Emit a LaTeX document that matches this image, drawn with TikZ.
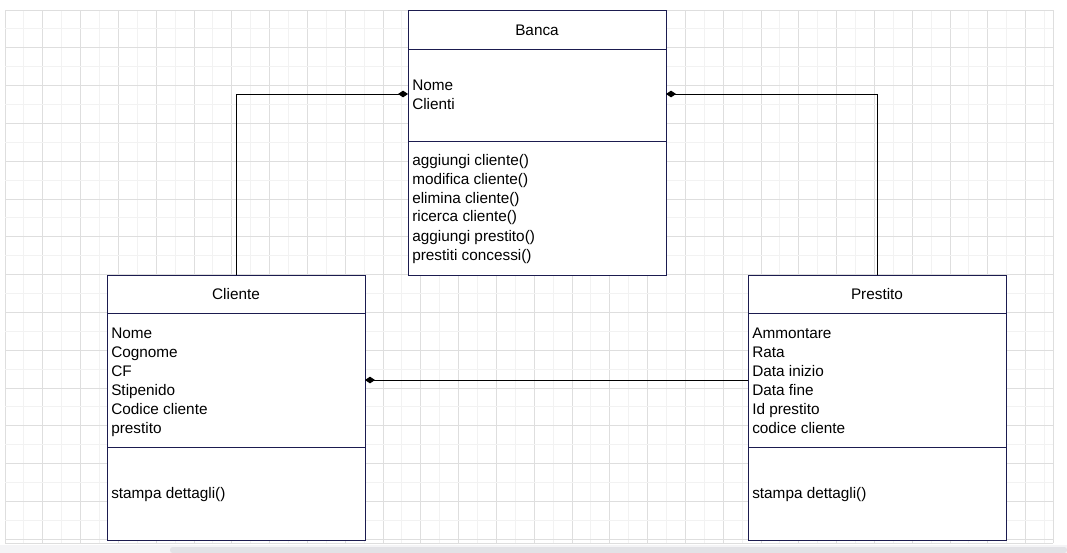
\documentclass[tikz,border=0pt]{standalone}
\usepackage{fontspec}
\setmainfont{Liberation Sans}
\usetikzlibrary{arrows.meta}
\definecolor{boxline}{HTML}{1B1B4F}
\definecolor{gridminor}{HTML}{F2F2F2}
\definecolor{gridmajor}{HTML}{DEDEDE}
\definecolor{barbg}{HTML}{F4F4F6}
\definecolor{barfg}{HTML}{E2E2E6}
\tikzset{
  umlbox/.style={draw=boxline, line width=0.75pt, fill=white, inner sep=0pt, outer sep=0pt,
    minimum width=193.5pt, minimum height=198.75pt, anchor=north west},
  sepline/.style={draw=boxline, line width=0.75pt},
  txt/.style={anchor=base west, inner sep=0pt, font=\fontsize{11.5pt}{14pt}\selectfont, text=black},
  title/.style={anchor=base, inner sep=0pt, font=\fontsize{11.5pt}{14pt}\selectfont, text=black},
  conn/.style={draw=black, line width=0.7pt, -{Diamond[length=7.5pt,width=5pt]}},
}
\begin{document}
\begin{tikzpicture}[x=0.75pt,y=-0.75pt]
\useasboundingbox (0,0) rectangle (1067,553);
\fill[white] (0,0) rectangle (1067,553);
% grid
\foreach \i in {0,...,55} {
  \pgfmathtruncatemacro{\m}{mod(\i,2)}
  \ifnum\m=0 \draw[gridmajor, line width=0.75pt] ({5+18.9*\i},10) -- ({5+18.9*\i},543);
  \else \draw[gridminor, line width=0.75pt] ({5+18.9*\i},10) -- ({5+18.9*\i},543); \fi
}
\foreach \j in {0,...,28} {
  \pgfmathtruncatemacro{\m}{mod(\j,2)}
  \ifnum\m=0 \draw[gridmajor, line width=0.75pt] (5,{10+18.9*\j}) -- (1053,{10+18.9*\j});
  \else \draw[gridminor, line width=0.75pt] (5,{10+18.9*\j}) -- (1053,{10+18.9*\j}); \fi
}
\draw[gridmajor, line width=0.75pt] (1053,10) -- (1053,543);
\draw[gridmajor, line width=0.75pt] (5,543) -- (1053,543);
% scrollbar strip
\fill[barbg] (0,545) rectangle (1067,553);
\fill[barfg, rounded corners=2pt] (170,547) rectangle (1067,553);

% connector coordinates
\coordinate (bl) at (408,94);
\coordinate (br) at (666,94);
\coordinate (ce) at (365,380);
\coordinate (pw) at (748,380);

% boxes
\node[umlbox] (banca) at (408,10) {};
\node[umlbox] (cliente) at (107,275) {};
\node[umlbox] (prestito) at (748,275) {};

% connectors
\draw[conn] (cliente.north) |- (bl);
\draw[conn] (prestito.north) |- (br);
\draw[conn] (pw) -- (ce);

% Banca
\draw[sepline] (408,49) -- (666,49);
\draw[sepline] (408,141) -- (666,141);
\node[title] (bt) at (537,35) {Banca};
\node[txt] (b1) at (412,90) {Nome};
\node[txt] (b2) at (412,109) {Clienti};
\node[txt] (b3) at (412,165) {aggiungi cliente()};
\node[txt] (b4) at (412,184) {modifica cliente()};
\node[txt] (b5) at (412,203) {elimina cliente()};
\node[txt] (b6) at (412,221) {ricerca cliente()};
\node[txt] (b7) at (412,241) {aggiungi prestito()};
\node[txt] (b8) at (412,260) {prestiti concessi()};

% Cliente
\draw[sepline] (107,313) -- (365,313);
\draw[sepline] (107,447) -- (365,447);
\node[title] (ct) at (236,299) {Cliente};
\node[txt] (c1) at (111,338) {Nome};
\node[txt] (c2) at (111,357) {Cognome};
\node[txt] (c3) at (111,376) {CF};
\node[txt] (c4) at (111,395) {Stipenido};
\node[txt] (c5) at (111,414) {Codice cliente};
\node[txt] (c6) at (111,433) {prestito};
\node[txt] (c7) at (111,498) {stampa dettagli()};

% Prestito
\draw[sepline] (748,313) -- (1006,313);
\draw[sepline] (748,447) -- (1006,447);
\node[title] (pt) at (877,299) {Prestito};
\node[txt] (p1) at (752,338) {Ammontare};
\node[txt] (p2) at (752,357) {Rata};
\node[txt] (p3) at (752,376) {Data inizio};
\node[txt] (p4) at (752,395) {Data fine};
\node[txt] (p5) at (752,414) {Id prestito};
\node[txt] (p6) at (752,433) {codice cliente};
\node[txt] (p7) at (752,498) {stampa dettagli()};
\end{tikzpicture}
\end{document}
